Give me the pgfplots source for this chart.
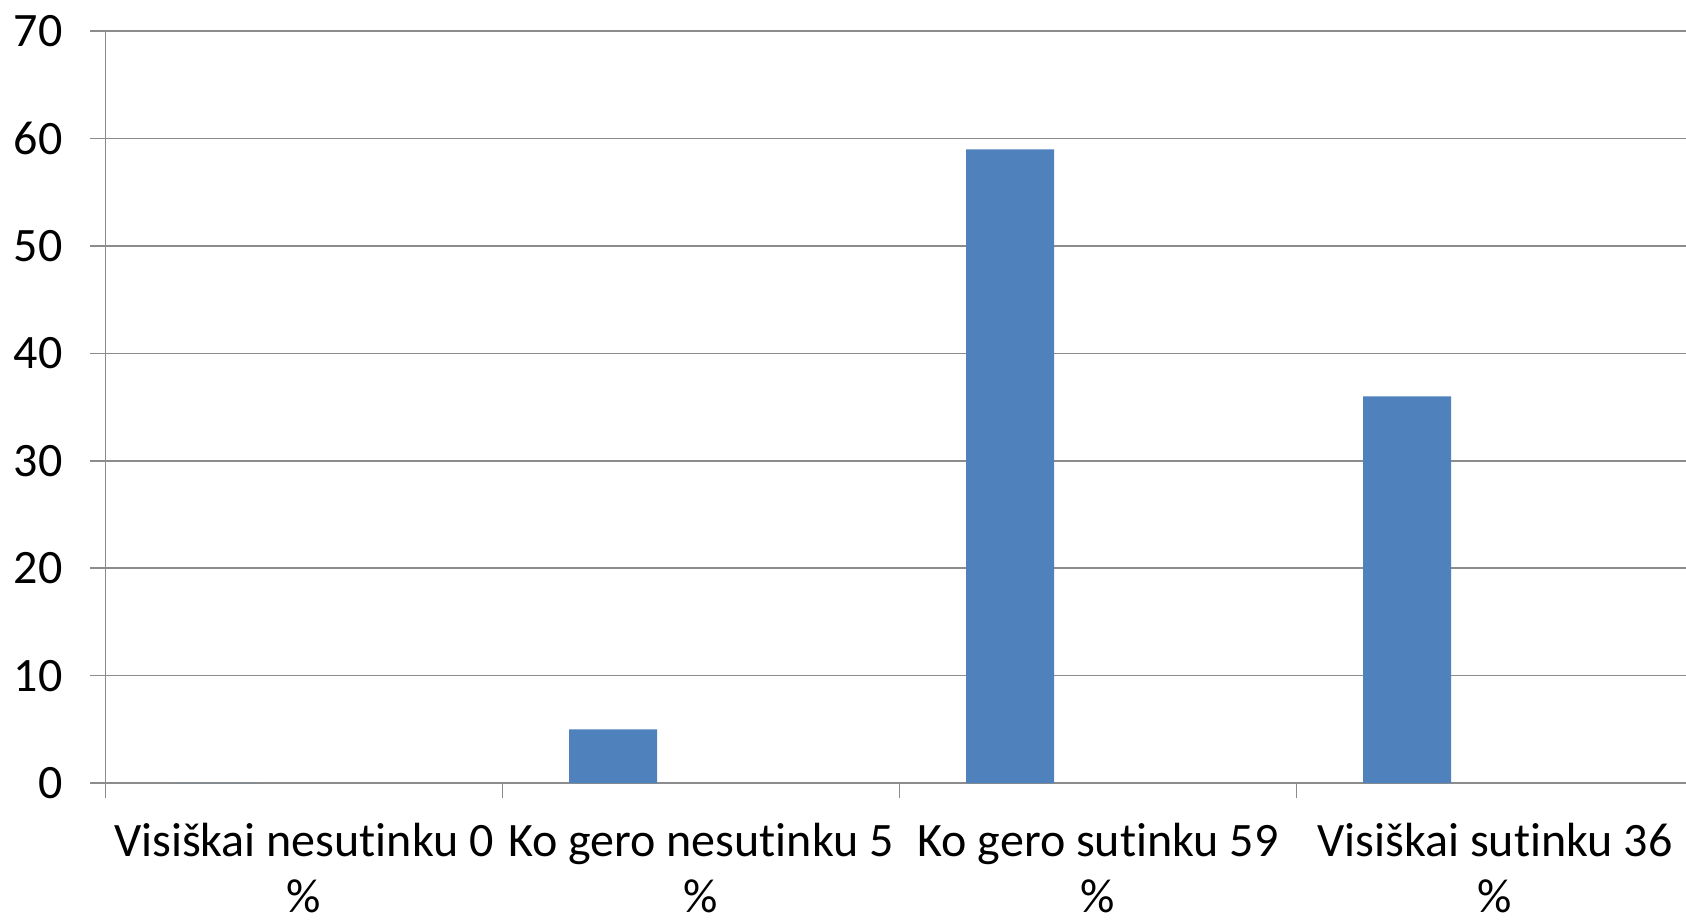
\documentclass[border=0pt]{standalone}
\usepackage{fontspec}
\setmainfont{Carlito}[Ligatures={NoCommon,NoContextual}]
\usepackage{pgfplots}
\pgfplotsset{compat=1.18}

\definecolor{barblue}{HTML}{4F81BD}
\definecolor{gridgray}{HTML}{8C8C8C}

\begin{document}
\begin{tikzpicture}
\begin{axis}[
  at={(0,0)}, anchor=south west,
  scale only axis,
  width=790.25pt, height=375.85pt,
  xmin=-0.5, xmax=3.481,
  ymin=0, ymax=70,
  ytick={0,10,...,70},
  xtick={0,1,2,3},
  xticklabels={Visiškai nesutinku 0\\\%, Ko gero nesutinku 5\\\%,
               Ko gero sutinku 59\\\%, Visiškai sutinku 36\\\%},
  minor xtick={-0.5,0.5,1.5,2.5},
  major x tick style={draw=none},
  axis x line=bottom, axis y line=left,
  axis line style={gridgray, line width=0.8pt, -},
  every tick/.style={gridgray, line width=0.8pt},
  tick align=outside,
  major tick length=7.5pt, minor tick length=7.5pt,
  ymajorgrids,
  grid style={gridgray, line width=0.8pt},
  /pgf/number format/assume math mode=true,
  ticklabel style={font=\fontsize{24}{28}\selectfont},
  xticklabel style={align=center, inner sep=0pt, yshift=-12.5pt},
  yticklabel style={xshift=-10.5pt},
  ybar, bar width=44pt, bar shift=-44pt,
  clip=false,
]
\addplot[fill=barblue, draw=none] coordinates {(0,0) (1,5) (2,59) (3,36)};
\end{axis}
\pgfresetboundingbox
\path[use as bounding box] (-52.75pt,-68.5pt) rectangle (790.25pt,391.5pt);
\end{tikzpicture}
\end{document}
